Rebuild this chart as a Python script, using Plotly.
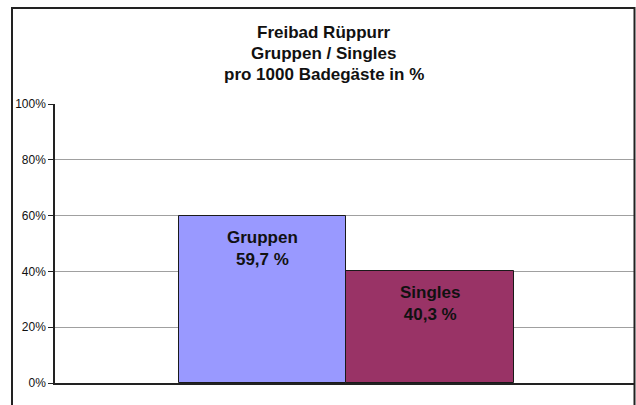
import plotly.graph_objects as go

categories = ["Gruppen", "Singles"]
values = [59.7, 40.3]
colors = ["#9999FF", "#993366"]
title_lines = ["Freibad Rüppurr", "Gruppen / Singles", "pro 1000 Badegäste in %"]
tick_vals = [0, 20, 40, 60, 80, 100]
tick_text = ["0%", "20%", "40%", "60%", "80%", "100%"]

FONT = "Liberation Sans, Arial, sans-serif"

W, H = 636, 405
# screen positions of plot area
SL, SR, ST, SB = 55, 634, 104, 383
L, T = SL, ST
R = W - SR
B = H - SB
pw, ph = W - L - R, H - T - B

def px_x(x):
    return (x - L) / pw

def px_y(y):
    return (H - B - y) / ph

fig = go.Figure()
fig.add_trace(go.Bar(
    x=categories, y=values,
    marker=dict(color=colors, line=dict(color="#1a1a1a", width=1)),
    width=1, hoverinfo="skip",
))

annotations = []
for c, v in zip(categories, values):
    annotations.append(dict(
        x=c, y=v, xref="x", yref="y", yanchor="top", yshift=-10,
        text="<b>%s<br>%s %%</b>" % (c, ("%.1f" % v).replace(".", ",")),
        showarrow=False, font=dict(family=FONT, size=17, color="#111"),
    ))

title_y = [32.5, 53.5, 74.5]
for t, yy in zip(title_lines, title_y):
    annotations.append(dict(
        x=px_x(323.5), y=px_y(yy), xref="paper", yref="paper",
        xanchor="center", yanchor="middle", text="<b>%s</b>" % t,
        showarrow=False, font=dict(family=FONT, size=17, color="#111"),
    ))

fig.update_layout(
    width=W, height=H,
    margin=dict(l=L, r=R, t=T, b=B, pad=0),
    paper_bgcolor="white", plot_bgcolor="white",
    showlegend=False, bargap=0,
    annotations=annotations,
    xaxis=dict(range=[-1.241, 2.219], showticklabels=False, showgrid=False,
               zeroline=False, showline=True, linecolor="#222", linewidth=1.5,
               ticks="", fixedrange=True),
    yaxis=dict(range=[0, 100], tickvals=tick_vals, ticktext=tick_text,
               showgrid=True, gridcolor="#a0a0a0", gridwidth=1,
               zeroline=False, showline=True, linecolor="#222", linewidth=1.5,
               ticks="outside", ticklen=5, tickcolor="#222",
               tickfont=dict(family=FONT, size=12, color="#111")),
    shapes=[dict(type="rect", xref="paper", yref="paper",
                 x0=px_x(12), x1=px_x(634.5), y0=px_y(440), y1=px_y(8),
                 line=dict(color="#222", width=2), layer="above")],
)

fig.write_html(
    "out.html",
    config={"displayModeBar": False},
    post_script="document.body.style.margin='0';document.body.style.overflow='hidden';",
)
